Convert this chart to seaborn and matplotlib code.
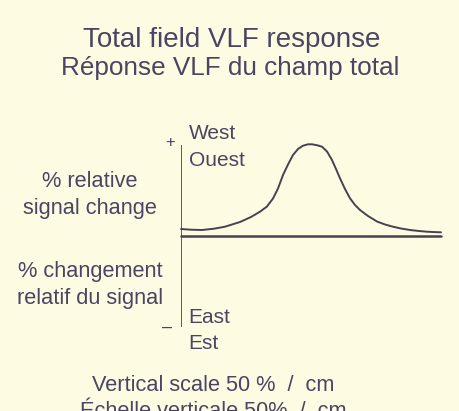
import matplotlib
matplotlib.use("Agg")
import matplotlib.pyplot as plt
import seaborn as sns

# ---- data ----
# distance along profile (relative units) and relative signal change (relative units)
profile_x = [0, 10, 21, 33, 44, 59, 70, 79, 86, 92, 97, 102, 107, 112, 117, 122, 127, 131,
             136, 141, 146, 151, 155, 159, 164, 169, 174, 179, 187, 196, 204, 212, 220,
             229, 238, 246, 254, 260]
response = [7.5, 6.8, 6.5, 7.8, 9.8, 14.5, 19.5, 24.8, 30, 38, 48, 61.5, 72, 81.5, 87.5, 90.8,
            92.2, 92.2, 91.3, 89.8, 85, 76.5, 67.5, 58.2, 47.5, 38.2, 31.5, 26.5, 20.5, 15,
            12, 9.8, 8, 6.5, 5.5, 4.8, 4.4, 4.2]
baseline_x = [0, 260]
baseline_y = [0, 0]

title_lines = ["Total field VLF response", "Réponse VLF du champ total"]
upper_label = ["% relative", "signal change"]
lower_label = ["% changement", "relatif du signal"]
west_label = ["West", "Ouest"]
east_label = ["East", "Est"]
scale_label = ["Vertical scale 50 %  /  cm", "Échelle verticale 50%  /  cm"]

sns.set_theme(style="white")
plt.rcParams['font.family'] = ['Liberation Sans', 'DejaVu Sans']

W, H = 460, 411
bg = "#fdfbe2"
txt = "#4b4563"
linec = "#4a4050"

fig = plt.figure(figsize=(W / 100, H / 100), dpi=100, facecolor=bg)

def fx(px):
    return px / W

def fy(py):
    return 1 - py / H

# axes: x from px 181..441, y from px 327 (bottom) .. 145 (top), baseline at 236.5
ax = fig.add_axes([fx(181), fy(327), fx(441) - fx(181), fy(145) - fy(327)])
ax.set_facecolor("none")
ax.set_xlim(0, 260)
ax.set_ylim(-(327 - 236.5), 236.5 - 145)
for s in ax.spines.values():
    s.set_visible(False)
ax.set_xticks([])
ax.set_yticks([])
ax.axvline(0, color="#5a4b45", lw=1.3)

sns.lineplot(x=baseline_x, y=baseline_y, ax=ax, color=linec, lw=1.8, clip_on=False)
sns.lineplot(x=profile_x, y=response, ax=ax, color=linec, lw=1.4, clip_on=False)

fig.text(fx(231.5), fy(47), title_lines[0], ha="center", va="baseline", fontsize=20, color=txt)
fig.text(fx(230.5), fy(75), title_lines[1], ha="center", va="baseline", fontsize=18.8, color=txt)

bfs = 15.7
fig.text(fx(90), fy(187), upper_label[0], ha="center", va="baseline", fontsize=bfs, color=txt)
fig.text(fx(90), fy(214), upper_label[1], ha="center", va="baseline", fontsize=bfs, color=txt)
fig.text(fx(90), fy(277), lower_label[0], ha="center", va="baseline", fontsize=bfs, color=txt)
fig.text(fx(90), fy(304), lower_label[1], ha="center", va="baseline", fontsize=bfs, color=txt)

fig.text(fx(189), fy(139), west_label[0], ha="left", va="baseline", fontsize=15, color=txt)
fig.text(fx(189), fy(166), west_label[1], ha="left", va="baseline", fontsize=15, color=txt)
fig.text(fx(188), fy(323), east_label[0], ha="left", va="baseline", fontsize=15, color=txt)
fig.text(fx(188), fy(349), east_label[1], ha="left", va="baseline", fontsize=15, color=txt)

fig.text(fx(170), fy(143), "+", ha="center", va="center", fontsize=12, color=txt)
fig.text(fx(167), fy(327), "–", ha="center", va="center", fontsize=13, color=txt)

fig.text(fx(213.5), fy(391), scale_label[0], ha="center", va="baseline", fontsize=bfs, color=txt)
fig.text(fx(213.5), fy(417), scale_label[1], ha="center", va="baseline", fontsize=bfs, color=txt)

fig.savefig("out.png", dpi=100, facecolor=bg)
